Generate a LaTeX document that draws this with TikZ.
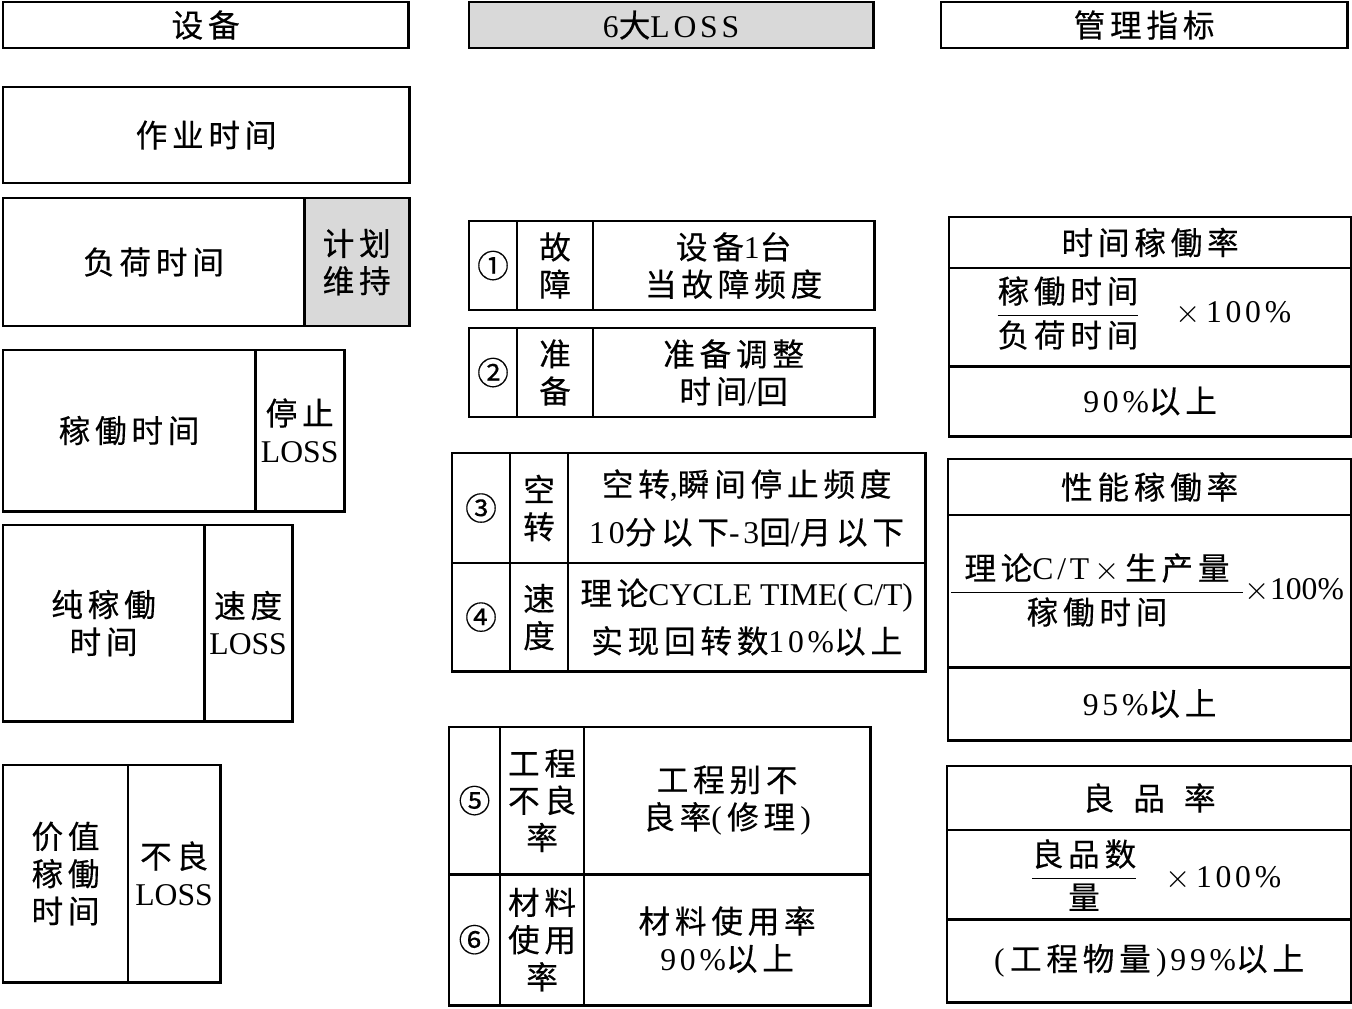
\documentclass[tikz,border=0pt]{standalone}
\usepackage{fontspec}
\setmainfont[LetterSpace=15, FakeBold=0.4]{Noto Sans CJK SC}
\newfontfamily\latnfont{Liberation Serif}
\newfontfamily\latspfont[LetterSpace=12]{Liberation Serif}
\newcommand\latn[1]{{\latnfont #1}}
\newcommand\latsp[1]{{\latspfont #1}}
\newcommand\pct[1]{$\times$\,\latsp{#1}}
\usetikzlibrary{positioning}

\begin{document}
\begin{tikzpicture}[
  x=0.01cm, y=-0.01cm,
  node distance=0pt,
  font=\fontsize{9}{10.6}\selectfont,
  cell/.style={rectangle, draw=black, line width=0.8pt, inner sep=0pt,
               outer sep=0pt, align=center},
  shade/.style={cell, fill=black!15},
  sz/.style 2 args={minimum width=#1cm, minimum height=#2cm}
]
\useasboundingbox (0,0) rectangle (1352,1008);

% headers
\node[cell, sz={4.05}{0.46}, anchor=north west] (hequip) at (3,2) {设备};
\node[shade, sz={4.04}{0.46}, anchor=north west] (hloss) at (469,2) {\latsp{6}大\latsp{LOSS}};
\node[cell, sz={4.06}{0.46}, anchor=north west] (hkpi) at (941,2) {管理指标};

% equipment time
\node[cell, sz={4.06}{0.96}, anchor=north west] (work) at (3,87) {作业时间};
\node[cell, sz={3.01}{1.28}, anchor=north west] (load) at (3,198) {负荷时间};
\node[shade, sz={1.05}{1.28}, right=of load] (plan) {计划\\维持};
\node[cell, sz={2.52}{1.61}, anchor=north west] (oper) at (3,350) {稼働时间};
\node[cell, sz={0.89}{1.61}, right=of oper] (stop) {停止\\\latn{LOSS}};
\node[cell, sz={2.01}{1.96}, anchor=north west] (net) at (3,525) {纯稼働\\时间};
\node[cell, sz={0.88}{1.96}, right=of net] (speed) {速度\\\latn{LOSS}};
\node[cell, sz={1.25}{2.17}, anchor=north west] (value) at (3,765) {价值\\稼働\\时间};
\node[cell, sz={0.92}{2.17}, right=of value] (defect) {不良\\\latn{LOSS}};

% six losses
\node[cell, sz={0.48}{0.89}, anchor=north west] (n1) at (469,221) {①};
\node[cell, sz={0.76}{0.89}, right=of n1] (k1) {故\\障};
\node[cell, sz={2.81}{0.89}, right=of k1] (d1) {设备\latsp{1}台\\当故障频度};
\node[cell, sz={0.48}{0.89}, anchor=north west] (n2) at (469,328) {②};
\node[cell, sz={0.76}{0.89}, right=of n2] (k2) {准\\备};
\node[cell, sz={2.81}{0.89}, right=of k2] (d2) {准备调整\\时间\latsp{/}回};

\node[cell, sz={0.58}{1.10}, anchor=north west] (n3) at (452,453) {③};
\node[cell, sz={0.58}{1.10}, right=of n3] (k3) {空\\转};
\node[cell, sz={3.57}{1.10}, right=of k3] (d3) {空转\latn{,}瞬间停止频度\\[3pt]\latsp{10}分以下\latsp{-3}回\latsp{/}月以下};
\node[cell, sz={0.58}{1.08}, below=of n3] (n4) {④};
\node[cell, sz={0.58}{1.08}, right=of n4] (k4) {速\\度};
\node[cell, sz={3.57}{1.08}, right=of k4] (d4) {理论\latn{CYCLE TIME(\,C/T)}\\[3pt]实现回转数\latsp{10\%}以上};

\node[cell, sz={0.51}{1.47}, anchor=north west] (n5) at (449,727) {⑤};
\node[cell, sz={0.84}{1.47}, right=of n5] (k5) {工程\\不良\\率};
\node[cell, sz={2.86}{1.47}, right=of k5] (d5) {工程别不\\良率\latsp{(}\,修理\,\latsp{)}};
\node[cell, sz={0.51}{1.31}, below=of n5] (n6) {⑥};
\node[cell, sz={0.84}{1.31}, right=of n6] (k6) {材料\\使用\\率};
\node[cell, sz={2.86}{1.31}, right=of k6] (d6) {材料使用率\\\latsp{90\%}以上};

% indicators
\node[cell, sz={4.02}{0.51}, anchor=north west] (t1) at (949,217) {时间稼働率};
\node[cell, sz={4.02}{0.98}, below=of t1] (t1f) {};
\node[cell, sz={4.02}{0.70}, below=of t1f] (t1v) {\latsp{90\%}以上};
\node (f1) at (1068,313) {$\displaystyle\frac{\mbox{稼働时间}}{\mbox{负荷时间}}$};
\node[anchor=west] (x1) at (1163,313) {\pct{100\%}};

\node[cell, sz={4.03}{0.56}, anchor=north west] (t2) at (948,459) {性能稼働率};
\node[cell, sz={4.03}{1.52}, below=of t2] (t2f) {};
\node[cell, sz={4.03}{0.73}, below=of t2f] (t2v) {\latsp{95\%}以上};
\node (f2) at (1097,590) {$\displaystyle\frac{\makebox[2.91cm]{理论\latsp{C/T}\,$\times$\,生产量}}{\mbox{稼働时间}}$};
\node[anchor=west, inner sep=0pt] (x2) at (1244,590) {$\times$\latn{100\%}};

\node[cell, sz={4.04}{0.64}, anchor=north west] (t3) at (947,766) {良\hspace{.6em}品\hspace{.6em}率};
\node[cell, sz={4.04}{0.89}, below=of t3] (t3f) {};
\node[cell, sz={4.04}{0.83}, below=of t3f] (t3v) {\latsp{(}\,工程物量\,\latsp{)}\latsp{99\%}以上};
\node (f3) at (1084,875) {$\displaystyle\frac{\mbox{良品数}}{\mbox{量}}$};
\node[anchor=west] (x3) at (1153,878) {\pct{100\%}};
\end{tikzpicture}
\end{document}
